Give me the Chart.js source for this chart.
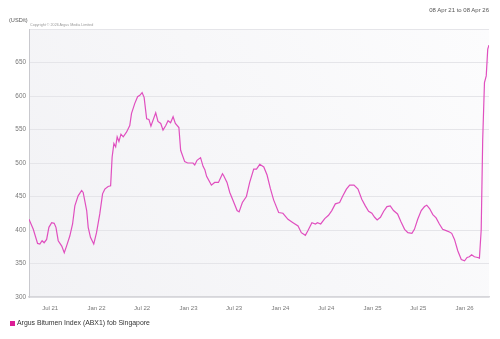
<!DOCTYPE html>
<html lang="en">
  <head>
    <meta charset="UTF-8" />
    <title>Argus Bitumen Index (ABX1) fob Singapore</title>
    <script src="https://cdn.jsdelivr.net/npm/chart.js"></script>
    <style>
      body {
        margin: 0;
        width: 500px;
        height: 339px;
        position: relative;
        overflow: hidden;
        background: #fff;
        font-family: "Liberation Sans", Arial, sans-serif;
      }
      #chartBox {
        position: absolute;
        left: 0;
        top: 0;
        width: 500px;
        height: 339px;
      }
      .unit {
        position: absolute;
        left: 9px;
        top: 17px;
        font-size: 5.6px;
        color: #555;
      }
      .copy {
        position: absolute;
        left: 30px;
        top: 23px;
        font-size: 3.7px;
        color: #999;
      }
      .range {
        position: absolute;
        right: 11px;
        top: 7px;
        font-size: 6px;
        color: #555;
      }
      .legend {
        position: absolute;
        left: 10px;
        top: 319px;
        font-size: 6.9px;
        color: #333;
        line-height: 8px;
      }
      .legend span {
        display: inline-block;
        width: 5px;
        height: 5px;
        background: #dc1d96;
        margin-right: 2px;
        vertical-align: -0.5px;
      }
    </style>
  </head>
  <body>
    <div id="chartBox"><canvas id="abxChart"></canvas></div>
    <div class="unit">(USD/t)</div>
    <div class="copy">Copyright © 2026 Argus Media Limited</div>
    <div class="range">08 Apr 21 to 08 Apr 26</div>
    <div class="legend"><span></span>Argus Bitumen Index (ABX1) fob Singapore</div>

    <script>
      // ABX1 assessments, USD/t
      const dates = [
        "2021-04-08", "2021-04-25", "2021-05-12", "2021-05-21", "2021-05-30", "2021-06-07", "2021-06-17",
        "2021-06-26", "2021-07-07", "2021-07-17", "2021-07-24", "2021-08-02", "2021-08-16", "2021-08-26",
        "2021-09-04", "2021-09-17", "2021-09-28", "2021-10-07", "2021-10-20", "2021-11-03", "2021-11-09",
        "2021-11-23", "2021-11-29", "2021-12-08", "2021-12-21",
        "2022-01-01", "2022-01-14", "2022-01-25", "2022-02-03", "2022-02-16", "2022-02-26", "2022-03-04",
        "2022-03-11", "2022-03-18", "2022-03-24", "2022-03-31", "2022-04-08", "2022-04-17", "2022-04-30",
        "2022-05-13", "2022-05-20", "2022-06-02", "2022-06-13", "2022-06-22", "2022-07-01", "2022-07-09",
        "2022-07-19", "2022-07-28", "2022-08-05", "2022-08-24", "2022-09-02", "2022-09-13", "2022-09-22",
        "2022-10-03", "2022-10-12", "2022-10-22", "2022-11-01", "2022-11-10", "2022-11-24", "2022-12-01",
        "2022-12-17", "2022-12-29",
        "2023-01-19", "2023-01-26", "2023-02-04", "2023-02-18", "2023-02-28", "2023-03-07", "2023-03-14",
        "2023-04-02", "2023-04-15", "2023-04-30", "2023-05-16", "2023-05-21", "2023-06-03", "2023-06-14",
        "2023-06-27", "2023-07-13", "2023-07-21", "2023-08-03", "2023-08-19", "2023-09-01", "2023-09-17",
        "2023-09-28", "2023-10-11", "2023-10-27", "2023-11-09", "2023-11-22", "2023-12-05", "2023-12-25",
        "2024-01-11", "2024-01-31", "2024-02-20", "2024-03-11", "2024-03-24", "2024-04-09", "2024-04-19",
        "2024-05-05", "2024-05-19", "2024-05-27", "2024-06-09", "2024-06-25", "2024-07-10", "2024-07-23",
        "2024-08-06", "2024-08-23", "2024-09-05", "2024-09-19", "2024-10-02", "2024-10-19", "2024-11-04",
        "2024-11-19", "2024-12-03", "2024-12-16", "2024-12-29",
        "2025-01-09", "2025-01-19", "2025-02-01", "2025-02-14", "2025-02-27", "2025-03-12", "2025-03-25",
        "2025-04-10", "2025-04-24", "2025-05-08", "2025-05-21", "2025-06-06", "2025-06-16", "2025-06-29",
        "2025-07-13", "2025-07-26", "2025-08-04", "2025-08-15", "2025-08-28", "2025-09-10", "2025-09-23",
        "2025-10-06", "2025-10-20", "2025-11-02", "2025-11-11", "2025-11-22", "2025-12-05", "2025-12-19",
        "2026-01-01", "2026-01-11", "2026-01-20", "2026-01-29", "2026-02-09", "2026-02-22", "2026-03-01",
        "2026-03-08", "2026-03-14", "2026-03-21", "2026-03-28", "2026-04-03", "2026-04-08",
      ];
      const prices = [
        416, 401, 380, 379, 384, 381, 386, 404, 411, 410, 404, 384, 376, 366, 376, 391, 409, 436, 451, 459,
        456, 429, 404, 389, 379,
        396, 424, 454, 461, 465, 466, 509, 529, 524, 539, 532, 543, 539, 546, 556, 574, 589, 599, 601, 605,
        598, 566, 565, 555, 575, 562, 559, 549, 556, 563, 560, 569, 559, 553, 519, 502, 500,
        500, 497, 504, 508, 495, 490, 480, 467, 471, 471, 484, 481, 471, 456, 444, 429, 427, 441, 450, 471,
        491, 491, 498, 494, 482, 462, 445, 426,
        425, 416, 411, 406, 396, 392, 399, 411, 409, 411, 409, 417, 422, 429, 439, 441, 451, 461, 467, 467,
        461, 446, 436, 428, 425,
        419, 415, 419, 428, 435, 436, 429, 424, 412, 401, 396, 395, 401, 416, 429, 435, 437, 432, 423, 418,
        409, 401, 399, 397, 395, 386, 369, 356,
        354, 359, 360, 363, 360, 359, 358, 400, 535, 620, 630, 670, 676,
      ];
      const xTickDates = [
        "2021-07-01", "2022-01-01", "2022-07-01", "2023-01-01", "2023-07-01",
        "2024-01-01", "2024-07-01", "2025-01-01", "2025-07-01", "2026-01-01",
      ];
      const startDate = "2021-04-08";
      const endDate = "2026-04-08";
      const yMin = 300;
      const yMax = 700;

      const DAY = 86400000;
      const toDay = (s) => Date.parse(s + "T00:00:00Z") / DAY;
      const MONTHS = ["Jan", "Feb", "Mar", "Apr", "May", "Jun", "Jul", "Aug", "Sep", "Oct", "Nov", "Dec"];
      function dayLabel(v) {
        const d = new Date(v * DAY);
        return MONTHS[d.getUTCMonth()] + " " + String(d.getUTCFullYear()).slice(2);
      }

      // light shaded plot area behind the grid, with a thin top edge
      const plotBackground = {
        id: "plotBackground",
        beforeDraw(chart) {
          const { ctx, chartArea: a } = chart;
          const g = ctx.createLinearGradient(a.right, a.top, a.left, a.bottom);
          g.addColorStop(0, "#fcfcfd");
          g.addColorStop(1, "#f2f2f5");
          ctx.save();
          ctx.fillStyle = g;
          ctx.fillRect(a.left, a.top, a.right - a.left, a.bottom - a.top);
          ctx.strokeStyle = "#e5e5e9";
          ctx.lineWidth = 1;
          ctx.beginPath();
          ctx.moveTo(a.left, a.top + 0.5);
          ctx.lineTo(a.right, a.top + 0.5);
          ctx.stroke();
          ctx.restore();
        },
      };

      const points = dates.map((d, i) => ({ x: toDay(d), y: prices[i] }));
      const tickFont = { family: "'Liberation Sans', Arial, sans-serif", size: 6 };

      new Chart(document.getElementById("abxChart"), {
        type: "line",
        data: {
          datasets: [
            {
              label: "Argus Bitumen Index (ABX1) fob Singapore",
              data: points,
              borderColor: "#e04fbf",
              backgroundColor: "#dc1d96",
              borderWidth: 1.2,
              pointRadius: 0,
              tension: 0,
              fill: false,
            },
          ],
        },
        options: {
          responsive: true,
          maintainAspectRatio: false,
          animation: false,
          layout: { padding: { top: 29, right: 11, bottom: 22, left: 0 } },
          plugins: { legend: { display: false }, tooltip: { enabled: false } },
          scales: {
            x: {
              type: "linear",
              min: toDay(startDate),
              max: toDay(endDate),
              afterFit: (s) => { s.height = 20; },
              afterBuildTicks: (s) => {
                s.ticks = xTickDates.map((d) => ({ value: toDay(d) }));
              },
              grid: { display: false, drawTicks: false },
              border: { display: true, color: "#d6d6da", width: 1.5 },
              ticks: {
                autoSkip: false,
                maxRotation: 0,
                padding: 8,
                color: "#777",
                font: tickFont,
                callback: (v) => dayLabel(v),
              },
            },
            y: {
              min: yMin,
              max: yMax,
              afterFit: (s) => { s.width = 29; },
              // no label on the top edge
              afterBuildTicks: (s) => {
                s.ticks = s.ticks.filter((t) => t.value < yMax);
              },
              grid: { color: "#e5e5e9", lineWidth: 1, drawTicks: false },
              border: { display: true, color: "#c9c9ce", width: 1 },
              ticks: {
                stepSize: 50,
                padding: 3,
                color: "#777",
                font: { family: tickFont.family, size: 6.4 },
              },
            },
          },
        },
        plugins: [plotBackground],
      });
    </script>
  </body>
</html>
